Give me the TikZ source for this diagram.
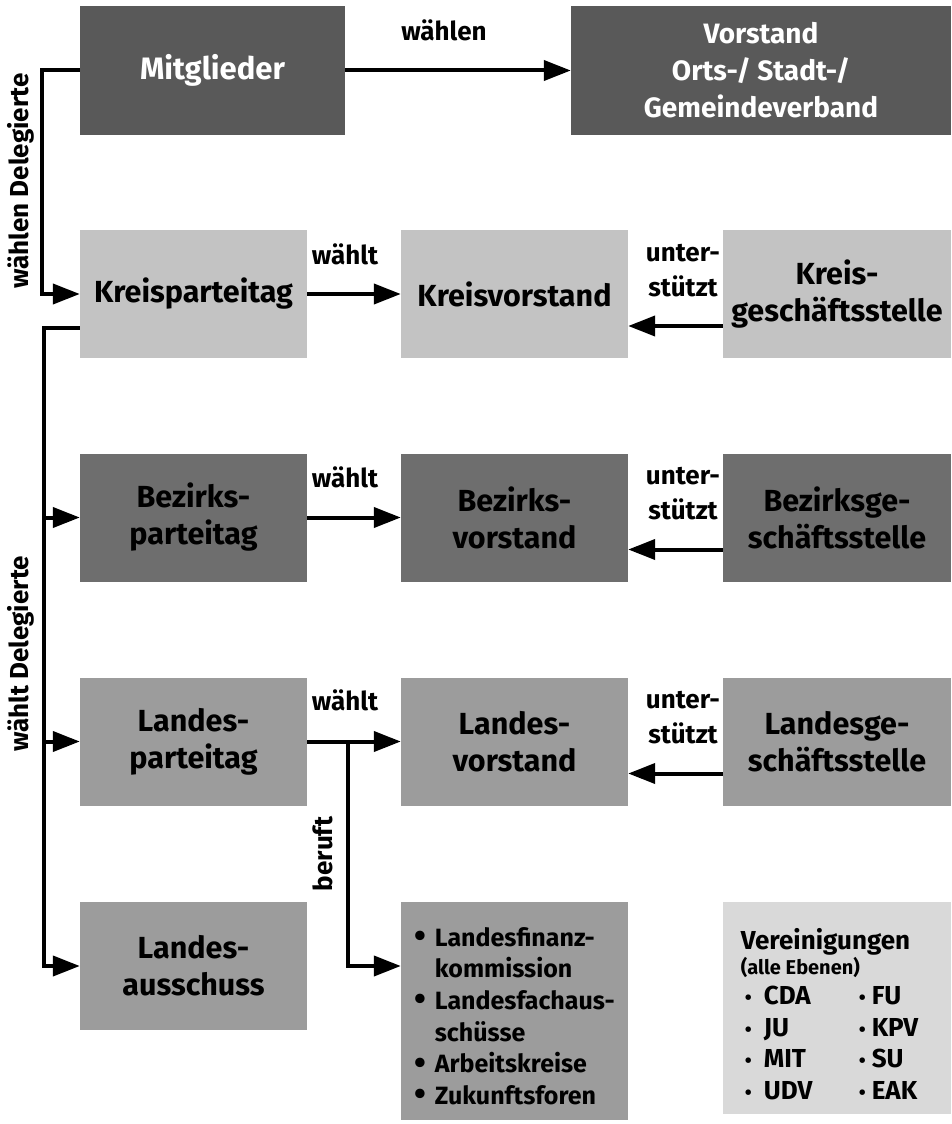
\documentclass[tikz,border=0pt]{standalone}
\usepackage{fontspec}
\setmainfont{Fira Sans}
\usetikzlibrary{arrows.meta}

\definecolor{darkgrey}{HTML}{595959}
\definecolor{kreisgrey}{HTML}{C3C3C3}
\definecolor{bezirkgrey}{HTML}{6E6E6E}
\definecolor{landesgrey}{HTML}{9C9C9C}
\definecolor{vereingrey}{HTML}{D9D9D9}

\newcommand{\boxfont}{\fontsize{30.5}{37}\selectfont\bfseries}
\newcommand{\lblfont}{\fontsize{26}{35}\selectfont\bfseries}
\newcommand{\listfont}{\fontsize{25}{31.6}\selectfont\bfseries}
\newcommand{\bigbullet}{\raisebox{-1.5pt}{\fontsize{34}{34}\selectfont\textbullet}}
\newcommand{\smallbullet}{{\fontsize{20}{20}\selectfont\textbullet}}

\begin{document}
\begin{tikzpicture}[x=1pt, y=-1pt,
    box/.style={rectangle, inner sep=0pt, align=center, font=\boxfont,
        minimum width=227pt, minimum height=128pt},
    lbl/.style={inner sep=0pt, align=center, font=\lblfont},
    conn/.style={line width=4pt},
    arr/.style={line width=4pt, -{Triangle[length=27pt, width=20pt]}}]

        \useasboundingbox (0,0) rectangle (951,1124);

        % Ortsebene
        \node[box, fill=darkgrey, text=white, minimum width=265pt, minimum height=129pt, font=\fontsize{31}{37}\selectfont\bfseries] (mitglieder) at (212.5,70.5) {Mitglieder};
        \node[box, fill=darkgrey, text=white, minimum width=380pt, minimum height=129pt, font=\fontsize{28}{37}\selectfont\bfseries] (vorstand) at (761,70.5) {Vorstand\\Orts-/ Stadt-/\\Gemeindeverband};

        % Kreisebene
        \node[box, fill=kreisgrey] (kpt) at (193.5,294) {Kreisparteitag};
        \node[box, fill=kreisgrey] (kvs) at (514.5,294) {Kreisvorstand};
        \node[box, fill=kreisgrey, minimum width=228pt] (kgs) at (837,294) {Kreis-\\geschäftsstelle};

        % Bezirksebene
        \node[box, fill=bezirkgrey] (bpt) at (193.5,517.5) {Bezirks-\\parteitag};
        \node[box, fill=bezirkgrey] (bvs) at (514.5,517.5) {Bezirks-\\vorstand};
        \node[box, fill=bezirkgrey, minimum width=228pt] (bgs) at (837,517.5) {Bezirksge-\\schäftsstelle};

        % Landesebene
        \node[box, fill=landesgrey] (lpt) at (193.5,741.5) {Landes-\\parteitag};
        \node[box, fill=landesgrey] (lvs) at (514.5,741.5) {Landes-\\vorstand};
        \node[box, fill=landesgrey, minimum width=228pt] (lgs) at (837,741.5) {Landesge-\\schäftsstelle};

        \node[box, fill=landesgrey] (las) at (193.5,966) {Landes-\\ausschuss};
        \node[box, fill=landesgrey, minimum height=218pt, font=\listfont] (lst) at (514.5,1011) {%
            \begin{tabular}{@{}l@{\hspace{9pt}}l@{}}
            \bigbullet & \rule{0pt}{38pt}Landesfinanz-\\
                       & kommission\\
            \bigbullet & Landesfachaus-\\
                       & schüsse\\
            \bigbullet & Arbeitskreise\\
            \bigbullet & Zukunftsforen
            \end{tabular}};

        % Vereinigungen
        \node[box, fill=vereingrey, minimum width=228pt, minimum height=212pt, font=\fontsize{26}{31.5}\selectfont\bfseries] (verein) at (837,1008) {%
            \begin{tabular}{@{\hspace{4pt}}l@{\hspace{12pt}}p{95pt}@{}l@{\hspace{6pt}}l@{\hspace{15pt}}}
            \multicolumn{4}{@{}l@{}}{\rule{0pt}{42pt}Vereinigungen}\\[-7pt]
            \multicolumn{4}{@{}l@{}}{\fontsize{20}{24}\selectfont (alle Ebenen)}\\[-1pt]
            \smallbullet & CDA & \smallbullet & FU\\
            \smallbullet & JU  & \smallbullet & KPV\\
            \smallbullet & MIT & \smallbullet & SU\\
            \smallbullet & UDV & \smallbullet & EAK
            \end{tabular}};

        % Beschriftungen
        \node[lbl] (waehlen) at (444,30) {wählen};
        \node[lbl, rotate=90] (delegierte0) at (21,181) {wählen Delegierte};
        \node[lbl, rotate=90] (delegierte1) at (21,654) {wählt Delegierte};
        \node[lbl] (waehlt0) at (345,254) {wählt};
        \node[lbl] (waehlt1) at (345,477) {wählt};
        \node[lbl] (waehlt2) at (345,700) {wählt};
        \node[lbl] (unter0) at (683,271) {unter-\\stützt};
        \node[lbl] (unter1) at (683,494) {unter-\\stützt};
        \node[lbl] (unter2) at (683,718) {unter-\\stützt};
        \node[lbl, rotate=90] (beruft) at (323,854) {beruft};

        % Mitglieder waehlen
        \draw[arr] (mitglieder) -- (vorstand);
        \draw[arr] (mitglieder.west) -- ++(-38,0) |- (kpt.west);

        % Delegierte vom Kreisparteitag
        \coordinate (spine) at (44,328);
        \draw[arr] ([yshift=-34pt]kpt.west) -- (spine) |- (las.west);
        \draw[arr] (spine |- bpt.west) -- (bpt.west);
        \draw[arr] (spine |- lpt.west) -- (lpt.west);

        % Parteitage waehlen Vorstaende
        \draw[arr] (kpt) -- (kvs);
        \draw[arr] (bpt) -- (bvs);
        \draw[arr] (lpt) -- (lvs);

        % Geschaeftsstellen unterstuetzen
        \draw[arr] ([yshift=-32pt]kgs.west) -- ([yshift=-32pt]kvs.east);
        \draw[arr] ([yshift=-32pt]bgs.west) -- ([yshift=-32pt]bvs.east);
        \draw[arr] ([yshift=-32pt]lgs.west) -- ([yshift=-32pt]lvs.east);

        % Landesparteitag beruft
        \coordinate (fork) at (348,741.5);
        \draw[arr] (fork) |- (lst.west |- las.east);

    \end{tikzpicture}
\end{document}
